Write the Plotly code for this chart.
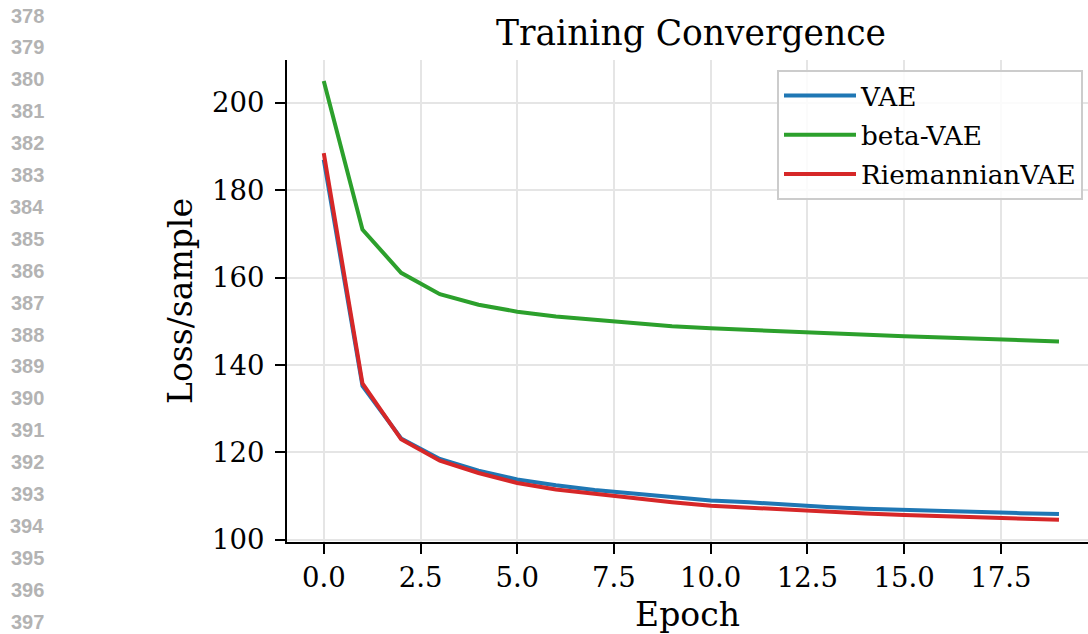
import plotly.graph_objects as go

epochs = list(range(20))
vae = [187.0, 135.2, 123.2, 118.5, 115.8, 113.8, 112.5, 111.4, 110.6, 109.8,
       109.0, 108.6, 108.0, 107.5, 107.1, 106.8, 106.5, 106.3, 106.1, 105.9]
beta_vae = [205.0, 171.0, 161.1, 156.2, 153.8, 152.2, 151.1, 150.3, 149.6, 148.9,
            148.4, 148.0, 147.6, 147.2, 146.9, 146.6, 146.3, 146.0, 145.8, 145.4]
riem_vae = [188.5, 135.8, 123.0, 118.1, 115.3, 113.0, 111.5, 110.5, 109.5, 108.6,
            107.8, 107.3, 106.8, 106.4, 106.0, 105.7, 105.4, 105.1, 104.9, 104.6]
series_names = ["VAE", "beta-VAE", "RiemannianVAE"]
series_colors = ["#1f77b4", "#2ca02c", "#d62728"]
line_numbers = list(range(378, 398))

W, H = 1088, 634
L, R, T, B = 287, 0, 60, 92
dom_w = W - L - R
dom_h = H - T - B
serif = "DejaVu Serif"

fig = go.Figure()
for name, ys, col in zip(series_names, [vae, beta_vae, riem_vae], series_colors):
    fig.add_trace(go.Scatter(x=epochs, y=ys, mode="lines", name=name, legendgroup=name,
                             line=dict(color=col, width=4)))

anns = []
for i, n in enumerate(line_numbers):
    ypx = 15.5 + i * 31.9
    xpx = 27
    anns.append(dict(x=(xpx - L) / dom_w, y=(H - B - ypx) / dom_h, xref="paper", yref="paper",
                     text="<b>%d</b>" % n, showarrow=False, xanchor="center", yanchor="middle",
                     font=dict(family="Liberation Sans", size=20, color="#b3b3b3")))

fig.update_layout(
    width=W, height=H,
    margin=dict(l=L, r=R, t=T, b=B, pad=0),
    paper_bgcolor="white", plot_bgcolor="white",
    title=dict(text="Training Convergence", x=691 / W, xanchor="center",
               y=1 - 33 / H, yanchor="middle", yref="container", xref="container",
               font=dict(family=serif, size=34.5, color="black")),
    legend=dict(x=(1083 - L) / dom_w, xanchor="right",
                y=(H - B - 70) / dom_h, yanchor="top",
                bgcolor="rgba(255,255,255,0.85)", bordercolor="#cccccc", borderwidth=2,
                font=dict(family=serif, size=26.3, color="black"),
                tracegroupgap=2, itemwidth=72),
    showlegend=True,
    annotations=anns,
)

fig.update_xaxes(range=[-0.95, 19.75], tick0=0, dtick=2.5, tickformat=".1f",
                 showgrid=True, gridcolor="#e5e5e5", gridwidth=1.5,
                 showline=True, linecolor="black", linewidth=2,
                 ticks="outside", ticklen=10, tickwidth=2, tickcolor="black",
                 tickfont=dict(family=serif, size=27.5, color="black"),
                 zeroline=False, ticklabelstandoff=0,
                 title=dict(text="Epoch", font=dict(family=serif, size=33, color="black"), standoff=13))
fig.update_yaxes(range=[99.5, 209.8], tick0=100, dtick=20,
                 showgrid=True, gridcolor="#e5e5e5", gridwidth=1.5,
                 showline=True, linecolor="black", linewidth=2,
                 ticks="outside", ticklen=10, tickwidth=2, tickcolor="black",
                 tickfont=dict(family=serif, size=27.5, color="black"),
                 zeroline=False, ticklabelstandoff=5,
                 title=dict(text="Loss/sample", font=dict(family=serif, size=33, color="black"), standoff=9))

fig.write_html("out.html", config={"displayModeBar": False},
               post_script="document.body.style.margin='0';document.body.style.overflow='hidden';")
